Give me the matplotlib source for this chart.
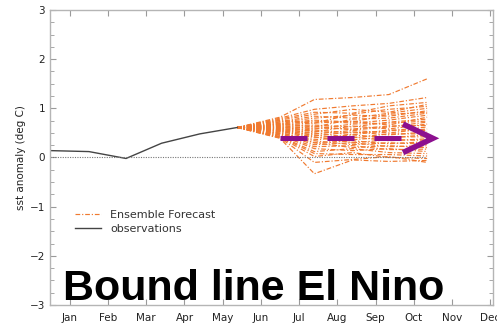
import numpy as np
import matplotlib
matplotlib.use('Agg')
import matplotlib.pyplot as plt
from matplotlib.ticker import MultipleLocator

# month axis
months = ['Jan', 'Feb', 'Mar', 'Apr', 'May', 'Jun',
          'Jul', 'Aug', 'Sep', 'Oct', 'Nov', 'Dec']
month_pos = np.arange(1, 13)

# observed sst anomaly
obs_x = [0.48, 1.5, 2.47, 3.4, 4.4, 5.38]
obs_y = [0.14, 0.12, -0.02, 0.29, 0.48, 0.61]

# ensemble forecast, one row per member, starting at the last observation
ens_x = [5.38, 6.5, 7.4, 8.4, 9.35, 10.35]
ens_start = 0.61
ens_members = [
    [0.82, 1.18, 1.22, 1.28, 1.60],
    [0.80, 0.98, 1.05, 1.10, 1.22],
    [0.78, 0.92, 0.90, 1.05, 1.12],
    [0.76, 0.88, 0.98, 0.92, 1.08],
    [0.75, 0.70, 0.88, 0.98, 1.04],
    [0.73, 0.84, 0.80, 0.90, 1.00],
    [0.72, 0.80, 0.86, 0.84, 0.95],
    [0.70, 0.76, 0.72, 0.88, 0.92],
    [0.69, 0.62, 0.78, 0.80, 0.90],
    [0.68, 0.74, 0.70, 0.76, 0.86],
    [0.67, 0.70, 0.74, 0.66, 0.82],
    [0.66, 0.66, 0.62, 0.72, 0.78],
    [0.65, 0.58, 0.68, 0.70, 0.74],
    [0.64, 0.64, 0.56, 0.62, 0.72],
    [0.63, 0.52, 0.64, 0.58, 0.68],
    [0.62, 0.60, 0.58, 0.64, 0.65],
    [0.61, 0.56, 0.50, 0.54, 0.62],
    [0.60, 0.48, 0.55, 0.50, 0.58],
    [0.59, 0.54, 0.46, 0.56, 0.55],
    [0.58, 0.44, 0.52, 0.46, 0.52],
    [0.57, 0.50, 0.40, 0.48, 0.48],
    [0.56, 0.40, 0.46, 0.40, 0.46],
    [0.55, 0.46, 0.36, 0.42, 0.42],
    [0.54, 0.36, 0.42, 0.34, 0.38],
    [0.53, 0.42, 0.30, 0.36, 0.35],
    [0.52, 0.30, 0.34, 0.28, 0.32],
    [0.50, 0.34, 0.26, 0.30, 0.27],
    [0.49, 0.26, 0.30, 0.22, 0.24],
    [0.48, 0.30, 0.20, 0.24, 0.20],
    [0.46, 0.22, 0.24, 0.16, 0.17],
    [0.45, 0.18, 0.14, 0.18, 0.12],
    [0.43, 0.12, 0.18, 0.10, 0.08],
    [0.42, 0.08, 0.06, 0.06, 0.03],
    [0.41, 0.02, 0.10, 0.00, -0.02],
    [0.40, -0.10, -0.04, 0.02, -0.10],
    [0.39, -0.33, -0.05, -0.08, -0.06],
]

# purple annotation arrow (dashed shaft + chevron head)
arrow_shaft_x = [6.5, 9.66]
arrow_level = 0.39
arrow_head_x = [9.72, 10.5, 9.72]
arrow_head_y = [0.68, 0.39, 0.10]

orange = '#f07a30'
purple = '#8c0f8f'
grey = '#9a9a9a'

fig = plt.figure(figsize=(4.97, 3.26), dpi=100)
ax = fig.add_axes([0.1006, 0.0644, 0.891, 0.905])

for i, m in enumerate(ens_members):
    ax.plot(ens_x, [ens_start] + m, color=orange, lw=0.85,
            linestyle=(0, (4, 1.6, 1, 1.6)),
            label='Ensemble Forecast' if i == 0 else None)

ax.plot(obs_x, obs_y, color='#444444', lw=1.0, label='observations')
ax.plot([0.48, 10.3], [0, 0], color='#777777', lw=0.8, linestyle=(0, (1, 1.2)))

ax.plot(arrow_shaft_x, [arrow_level, arrow_level], color=purple, lw=3.6,
        linestyle=(0, (5.4, 4)), solid_capstyle='butt', dash_capstyle='butt')
ax.plot(arrow_head_x, arrow_head_y, color=purple, lw=4.0,
        solid_joinstyle='miter', solid_capstyle='butt')

ax.set_xlim(0.48, 12.07)
ax.set_ylim(-3, 3)
ax.set_xticks(month_pos)
ax.set_xticklabels(months)
ax.yaxis.set_major_locator(MultipleLocator(1))
ax.yaxis.set_minor_locator(MultipleLocator(0.25))
ax.tick_params(axis='both', which='both', direction='in', color=grey,
               labelsize=7.5, labelcolor='#222222', top=True, right=True)
ax.tick_params(axis='both', which='major', length=4)
ax.tick_params(axis='y', which='minor', length=3)
ax.tick_params(axis='x', pad=6)
for s in ax.spines.values():
    s.set_color('#b5b5b5')
    s.set_linewidth(1.0)

ax.set_ylabel('sst anomaly (deg C)', fontsize=7.5, color='#222222', labelpad=3)

leg = ax.legend(loc='upper left', bbox_to_anchor=(0.035, 0.355), frameon=False,
                fontsize=8, handlelength=2.3, labelspacing=0.3,
                handletextpad=0.8)
for t in leg.get_texts():
    t.set_color('#333333')

fig.text(63 / 497, 26 / 326, 'Bound line El Nino', fontsize=31,
         fontweight='bold', family='Liberation Sans', color='black',
         va='baseline', ha='left')

fig.savefig('out.png', dpi=100)
